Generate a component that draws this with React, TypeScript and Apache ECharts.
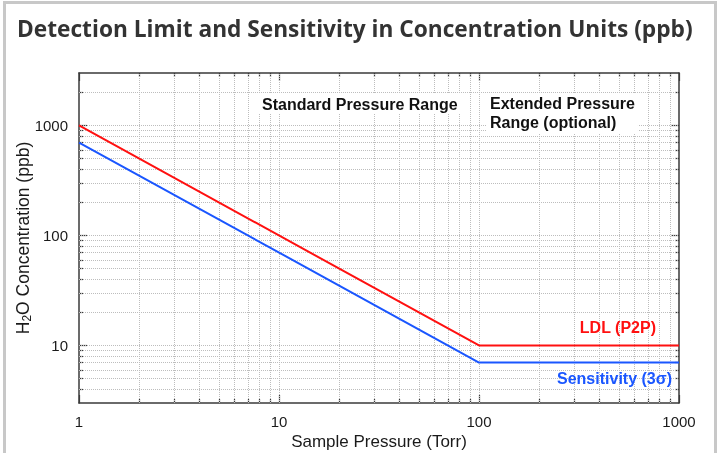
import React, { useEffect, useRef } from 'react';
import * as echarts from 'echarts';

// ---- data ----
const pressure = [1, 100, 1000];
const ldl = [1000, 10, 10];
const sensitivity = [700, 7, 7];

const xMajor = [1, 10, 100, 1000];
const xLabels = ['1', '10', '100', '1000'];
const xMinor = [2, 3, 4, 5, 6, 7, 8, 9, 20, 30, 40, 50, 60, 70, 80, 90, 200, 300, 400, 500, 600, 700, 800, 900];
const yMajor = [10, 100, 1000];
const yLabels = ['10', '100', '1000'];
const yMinor = [4, 5, 6, 7, 8, 9, 20, 30, 40, 50, 60, 70, 80, 90, 200, 300, 400, 500, 600, 700, 800, 900, 2000];
const xGrid = [2, 3, 4, 5, 6, 7, 8, 9, 10, 20, 30, 40, 50, 60, 70, 80, 90, 100, 200, 300, 400, 500, 600, 700, 800, 900];
const yGrid = [4, 5, 6, 7, 8, 9, 10, 20, 30, 40, 50, 60, 70, 80, 90, 100, 200, 300, 400, 500, 600, 700, 800, 900, 1000, 2000];

const titleText = 'Detection Limit and Sensitivity in Concentration Units (ppb)';
const xName = 'Sample Pressure (Torr)';
const seriesNames = ['LDL (P2P)', 'Sensitivity (3σ)'];

const RED = '#ff1010';
const BLUE = '#1a56ff';
const AXIS = '#3a3a3a';
const GRID = '#bdbdbd';
const FONT = '"Liberation Sans", Arial, sans-serif';

export default function App() {
  const ref = useRef<HTMLDivElement>(null);
  useEffect(() => {
    document.body.style.margin = '0';
    const chart = echarts.init(ref.current!, null, { renderer: 'svg' });
    const axisLine = { show: true, lineStyle: { color: AXIS, width: 1.5 } };
    const tickStyle = { color: AXIS, width: 1.2 };
    const baseX: any = { type: 'log', logBase: 10, min: 1, max: 1000, splitLine: { show: false } };
    const baseY: any = { type: 'log', logBase: 10, min: 3, max: 3000, splitLine: { show: false } };
    const xFmt = (v: number) => {
      const i = xMajor.findIndex((m) => Math.abs(m - v) < 1e-6 * m);
      return i >= 0 ? xLabels[i] : '';
    };
    const yFmt = (v: number) => {
      const i = yMajor.findIndex((m) => Math.abs(m - v) < 1e-6 * m);
      return i >= 0 ? yLabels[i] : '';
    };
    const labelStyle = { fontFamily: FONT, fontSize: 15, color: '#1a1a1a' };
    const textStyle = { fontFamily: FONT, fontSize: 16, fontWeight: 'bold' };

    chart.setOption({
      animation: false,
      grid: { left: 79, top: 73, width: 600, height: 330, containLabel: false, outerBoundsMode: 'none' },
      xAxis: [
        {
          ...baseX, position: 'bottom', axisLine,
          axisTick: { show: true, inside: true, length: 8, customValues: xMajor, lineStyle: tickStyle },
          axisLabel: { show: true, customValues: xMajor, formatter: xFmt, margin: 11, ...labelStyle },
          name: xName, nameLocation: 'middle', nameGap: 30, nameMoveOverlap: false,
          nameTextStyle: { fontFamily: FONT, fontSize: 17, color: '#1a1a1a' },
        },
        {
          ...baseX, position: 'bottom', axisLine: { show: false },
          axisTick: { show: true, inside: true, length: 4, customValues: xMinor, lineStyle: tickStyle },
          axisLabel: { show: false },
        },
        {
          ...baseX, position: 'top', axisLine,
          axisTick: { show: true, inside: true, length: 8, customValues: xMajor, lineStyle: tickStyle },
          axisLabel: { show: false },
        },
        {
          ...baseX, position: 'top', axisLine: { show: false },
          axisTick: { show: true, inside: true, length: 4, customValues: xMinor, lineStyle: tickStyle },
          axisLabel: { show: false },
        },
      ],
      yAxis: [
        {
          ...baseY, position: 'left', axisLine,
          axisTick: { show: true, inside: true, length: 8, customValues: yMajor, lineStyle: tickStyle },
          axisLabel: { show: true, customValues: yMajor, formatter: yFmt, margin: 11, ...labelStyle },
          name: '{a|H}{s|2}{a|O Concentration (ppb)}',
          nameLocation: 'middle', nameGap: 46, nameRotate: 90, nameMoveOverlap: false,
          nameTextStyle: {
            rich: {
              a: { fontFamily: FONT, fontSize: 17.5, color: '#1a1a1a', lineHeight: 20, verticalAlign: 'middle' },
              s: { fontFamily: FONT, fontSize: 12, color: '#1a1a1a', lineHeight: 11, verticalAlign: 'bottom' },
            },
          },
        },
        {
          ...baseY, position: 'left', axisLine: { show: false },
          axisTick: { show: true, inside: true, length: 4, customValues: yMinor, lineStyle: tickStyle },
          axisLabel: { show: false },
        },
        {
          ...baseY, position: 'right', axisLine,
          axisTick: { show: true, inside: true, length: 8, customValues: yMajor, lineStyle: tickStyle },
          axisLabel: { show: false },
        },
        {
          ...baseY, position: 'right', axisLine: { show: false },
          axisTick: { show: true, inside: true, length: 4, customValues: yMinor, lineStyle: tickStyle },
          axisLabel: { show: false },
        },
      ],
      series: [
        {
          type: 'line', name: 'grid', data: [], z: 1, silent: true,
          markLine: {
            silent: true, symbol: ['none', 'none'], animation: false,
            label: { show: false },
            lineStyle: { type: 'dotted', color: GRID, width: 1 },
            data: [...xGrid.map((v) => ({ xAxis: v })), ...yGrid.map((v) => ({ yAxis: v }))],
          },
        },
        {
          type: 'line', name: seriesNames[0], z: 5, symbol: 'none',
          data: pressure.map((p, i) => [p, ldl[i]]),
          lineStyle: { color: RED, width: 2 }, itemStyle: { color: RED },
        },
        {
          type: 'line', name: seriesNames[1], z: 5, symbol: 'none',
          data: pressure.map((p, i) => [p, sensitivity[i]]),
          lineStyle: { color: BLUE, width: 2 }, itemStyle: { color: BLUE },
        },
      ],
      graphic: [
        {
          type: 'rect', z: 0, silent: true,
          shape: { x: 4.5, y: 2.5, width: 711, height: 480 },
          style: { fill: 'none', stroke: '#c8c8c8', lineWidth: 3 },
        },
        {
          type: 'text', x: 17, y: 28, z: 10,
          style: {
            text: titleText, fill: '#333333', fontFamily: '"Open Sans", sans-serif',
            fontSize: 22.7, fontWeight: 'bold', align: 'left', verticalAlign: 'middle',
          },
        },
        {
          type: 'text', x: 259, y: 104, z: 10,
          style: {
            text: 'Standard Pressure Range', fill: '#111', ...textStyle,
            align: 'left', verticalAlign: 'middle', backgroundColor: '#fff', padding: [2, 3],
          },
        },
        {
          type: 'text', x: 487, y: 93, z: 10,
          style: {
            text: 'Extended Pressure\nRange (optional)', fill: '#111', ...textStyle, lineHeight: 19,
            align: 'left', verticalAlign: 'top', backgroundColor: '#fff', padding: [1, 3],
          },
        },
        {
          type: 'text', x: 656, y: 327, z: 10,
          style: { text: seriesNames[0], fill: RED, ...textStyle, align: 'right', verticalAlign: 'middle' },
        },
        {
          type: 'text', x: 672, y: 378, z: 10,
          style: { text: seriesNames[1], fill: BLUE, ...textStyle, align: 'right', verticalAlign: 'middle' },
        },
      ],
    });
    return () => chart.dispose();
  }, []);
  return <div ref={ref} style={{ position: 'fixed', left: 0, top: 0, width: 722, height: 453 }} />;
}
